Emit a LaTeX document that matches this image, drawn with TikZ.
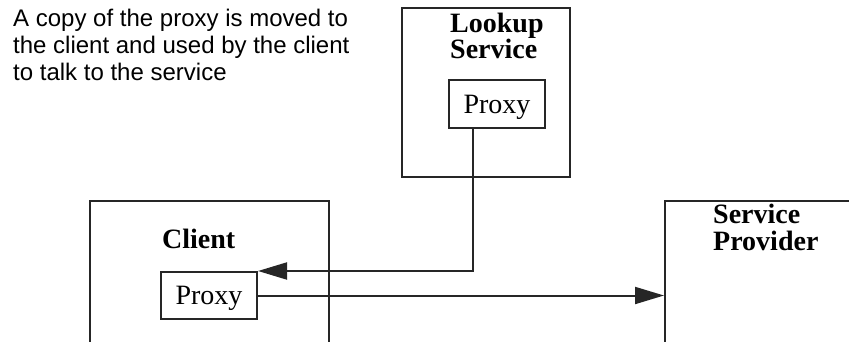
\documentclass[tikz,border=0pt]{standalone}
\usepackage{fontspec}
\setmainfont{Liberation Serif}
\newfontfamily\notesans{Liberation Sans}
\usetikzlibrary{arrows.meta,calc}
\definecolor{ink}{RGB}{38,38,38}
\begin{document}
\begin{tikzpicture}[x=1pt,y=-1pt,
  line/.style={draw=ink,line width=2pt},
  bigbox/.style={line,inner sep=0pt,anchor=north west},
  proxybox/.style={line,inner sep=0pt,minimum width=96pt,minimum height=47pt,
    font=\fontsize{28}{27}\selectfont,text depth=0pt},
  title/.style={inner sep=0pt,anchor=base west,align=left,
    font=\fontsize{28}{26.5}\selectfont\bfseries},
  note/.style={inner sep=0pt,anchor=base west,align=left,
    font=\notesans\fontsize{24}{27}\selectfont},
  arr/.style={line,-{Triangle[length=29pt,width=17pt]}}]
\useasboundingbox (0,0) rectangle (849,342);
\clip (0,0) rectangle (849,342);
% boxes
\node[bigbox,minimum width=168pt,minimum height=169pt] (lookup) at (401,7) {};
\node[bigbox,minimum width=239pt,minimum height=200pt] (client) at (89,200) {};
\node[bigbox,minimum width=250pt,minimum height=200pt] (provider) at (664,200) {};
\node[proxybox,minimum height=48pt] (lproxy) at (497,104) {Proxy};
\node[proxybox] (cproxy) at (209,295.5) {Proxy};
% titles (base anchor = last line's baseline)
\node[title] (lookuptitle) at (450,59) {Lookup\\Service};
\node[title] (clienttitle) at (162,248) {Client};
\node[title] (providertitle) at (713,250) {Service\\Provider};
\node[note] (note) at (13,81) {A copy of the proxy is moved to\\the client and used by the client\\to talk to the service};
% connectors
\coordinate (ldrop) at ($(lproxy.south west)!0.25!(lproxy.south east)$);
\draw[arr] (ldrop) |- (cproxy.north east);
\draw[arr] (cproxy.east) -- (cproxy.east -| provider.west);
\end{tikzpicture}
\end{document}
